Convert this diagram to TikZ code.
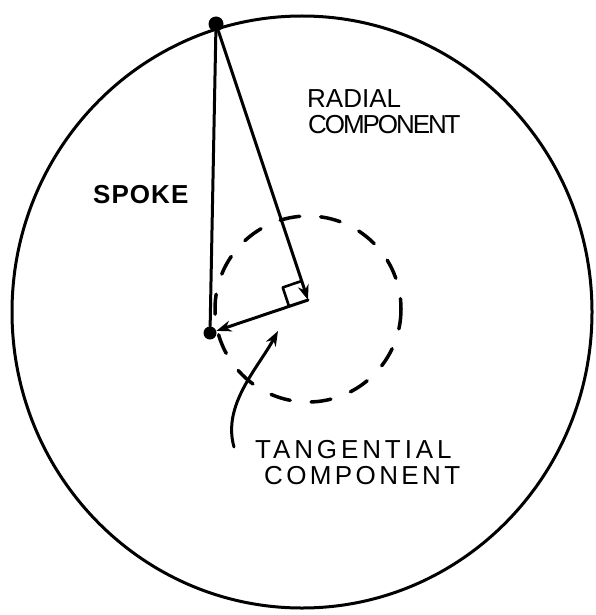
\documentclass[tikz,border=0pt]{standalone}
\usepackage{fontspec}
\setmainfont{Liberation Sans}
\usetikzlibrary{arrows.meta,calc}
\begin{document}
\begin{tikzpicture}[x=1pt,y=-1pt,
  ink/.style={line width=3pt,line cap=round,line join=round},
  tip/.style={-{Stealth[length=15pt,width=11pt]}},
  dot/.style={circle,fill=black,inner sep=0pt},
  lbl/.style={inner sep=0pt,anchor=base west,font=\fontsize{26}{30}\selectfont}
]
\useasboundingbox (0,0) rectangle (595,615);
% rim
\draw[ink] (302,312) ellipse [x radius=290, y radius=296];
% hub flange
\draw[ink,line width=3.5pt,dash pattern=on 20pt off 21pt] (308,309) circle [radius=93];
% points
\node[dot,minimum size=15pt] (top) at (216,24) {};
\node[dot,minimum size=13pt] (hub) at (210,333) {};
\coordinate (c) at (308,300);
% spoke
\draw[ink] (top) -- (hub);
% radial component
\draw[ink,tip] (top) -- (c);
% tangential component
\draw[ink,tip] (c) -- (hub);
% right-angle mark
\coordinate (ra) at ($(c)!20pt!(top)$);
\coordinate (rb) at ($(c)!20pt!(hub)$);
\draw[ink,line width=2.6pt] (ra) -- ($(ra)+(rb)-(c)$) -- (rb);
% labels
\node[lbl] (radial) at (307,107) {RADIAL};
\node[lbl] (radcomp) at (308,133) {\addfontfeature{LetterSpace=-8}COMPONENT};
\node[lbl] (spoke) at (93,203) {\bfseries\addfontfeature{LetterSpace=4}SPOKE};
\node[lbl] (tang) at (255,458) {\addfontfeature{LetterSpace=15}TANGENTIAL};
\node[lbl] (tangcomp) at (264,484) {\addfontfeature{LetterSpace=13}COMPONENT};
% pointer arrow
\coordinate (ps) at (234,447);
\coordinate (pt) at (278,331);
\draw[ink,tip] (ps) .. controls (222,405) and (258,368) .. (pt);
\end{tikzpicture}
\end{document}
